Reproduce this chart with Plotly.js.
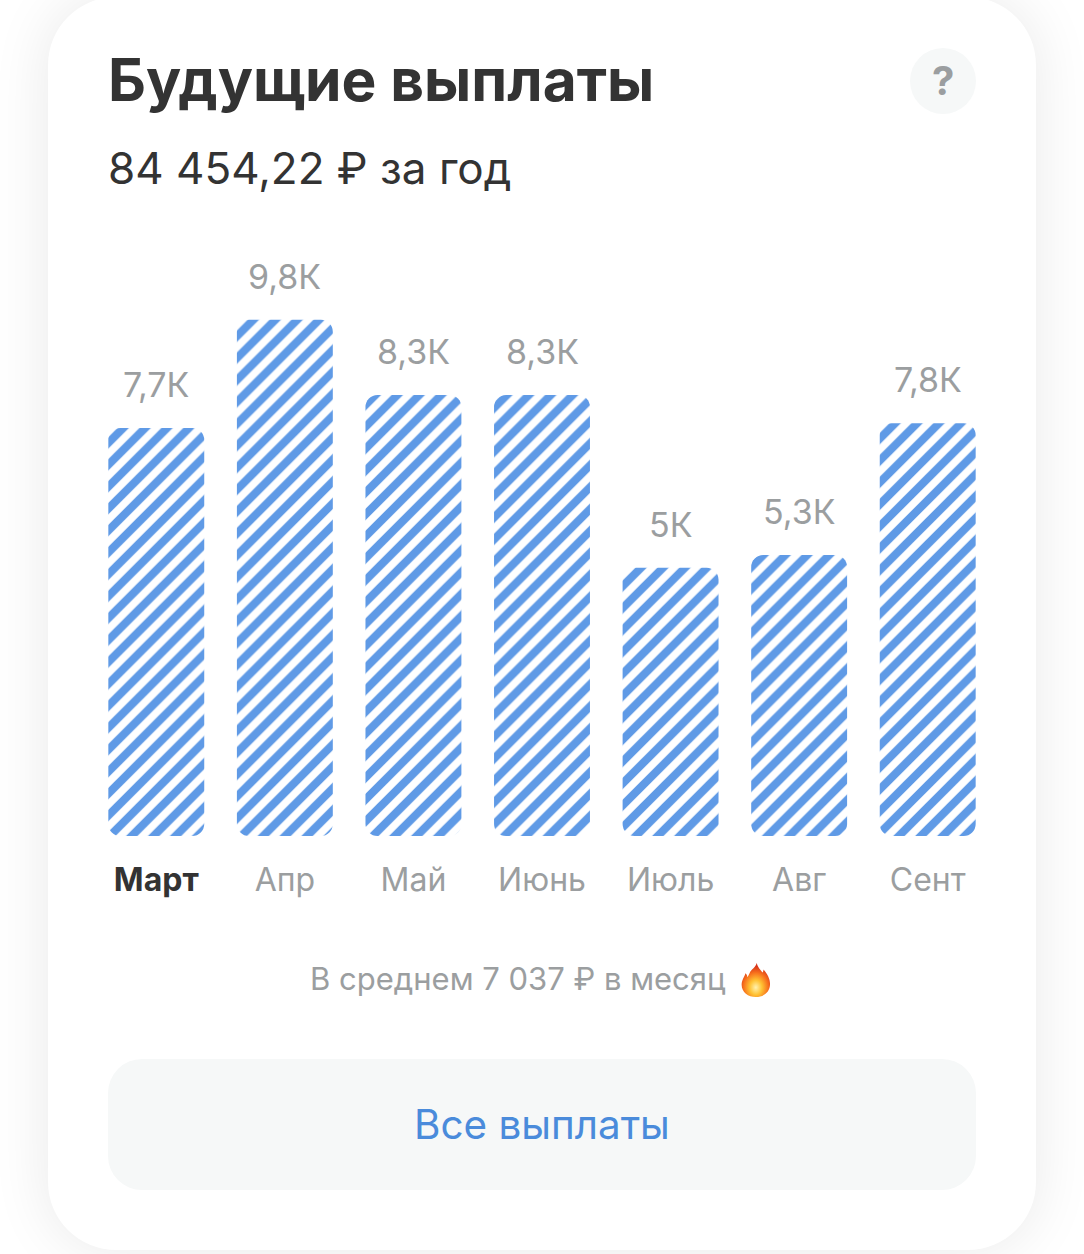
<!DOCTYPE html>
<html><head><meta charset="utf-8">
<script src="https://cdn.plot.ly/plotly-3.0.1.min.js"></script>
<style>
html,body{margin:0;padding:0;width:1084px;height:1254px;background:#fff;overflow:hidden}
.card{position:absolute;left:48px;top:-3px;width:988px;height:1253px;background:#fff;border-radius:68px;box-shadow:0 0 60px rgba(0,0,0,.09)}
.help{position:absolute;left:910px;top:48px;width:66px;height:66px;border-radius:50%;background:#f6f8f8}
.btn{position:absolute;left:108px;top:1059px;width:868px;height:131px;border-radius:34px;background:#f6f8f8}
#chart{position:absolute;left:0;top:0;width:1084px;height:1254px}
</style></head><body>
<div class="card"></div><div class="help"></div><div class="btn"></div>
<div id="chart"></div>
<script>
const months = ['Март','Апр','Май','Июнь','Июль','Авг','Сент'];
const monthLabels = ['<b><span style="color:#333333">Март</span></b>','Апр','Май','Июнь','Июль','Авг','Сент'];
const payouts = [7.7, 9.74, 8.32, 8.32, 5.06, 5.3, 7.79];
const valueLabels = ['7,7К','9,8К','8,3К','8,3К','5К','5,3К','7,8К'];
const titleText = 'Будущие выплаты';
const subtitleText = '84 454,22 ₽ за год';
const averageText = 'В среднем 7 037 ₽ в месяц';
const buttonText = 'Все выплаты';

const W = 1084, H = 1254, L = 91.67, R = 91.67, T = 240, B = 418;
const px = x => (x - L) / (W - L - R);
const py = y => 1 - (y - T) / (H - T - B);
const FONT = 'Inter, Roboto, sans-serif';
const GREY = '#9b9ea0';

const flame = `<svg xmlns="http://www.w3.org/2000/svg" viewBox="0 0 32 38"><defs><radialGradient id="g" cx="50%" cy="72%" r="62%"><stop offset="0" stop-color="#fff2b0"/><stop offset=".35" stop-color="#ffc233"/><stop offset=".7" stop-color="#f7711c"/><stop offset="1" stop-color="#d8341a"/></radialGradient></defs><path fill="url(#g)" d="M17 1c1 5 4 7 6 10 1-1 1-2 1-3 4 4 7 10 7 15 0 9-7 14-15 14S1 32 1 24c0-5 3-8 4-12 1 1 2 2 2 4 2-2 2-5 5-8 2-2 4-4 5-7z"/></svg>`;

const trace = {
  type: 'bar', x: months, y: payouts,
  cliponaxis: false,
  marker: {color: '#ffffff', line: {width: 0},
    pattern: {shape: '/', bgcolor: '#ffffff', fgcolor: '#5f9ae6', size: 15.5, solidity: 0.52, fillmode: 'replace'}},
  hoverinfo: 'skip'
};
const pageTexts = [
    {text: subtitleText, x: px(106), y: py(168), xanchor: 'left', yanchor: 'middle', font: {family: FONT, size: 44, color: '#333333'}},
    {text: averageText, x: px(307.5), y: py(978), xanchor: 'left', yanchor: 'middle', font: {family: FONT, size: 31, color: GREY}},
    {text: buttonText, x: px(541.5), y: py(1124), xanchor: 'center', yanchor: 'middle', font: {family: FONT, size: 40.4, color: '#4a8bdb'}},
    {text: '<b>?</b>', x: px(943), y: py(81), xanchor: 'center', yanchor: 'middle', font: {family: FONT, size: 40, color: GREY}}
].map(a => Object.assign({xref: 'paper', yref: 'paper', showarrow: false}, a));
const barLabels = months.map((m, i) => ({xref: 'x', yref: 'y', x: m, y: payouts[i], text: valueLabels[i], showarrow: false,
    yanchor: 'bottom', yshift: 21, font: {family: FONT, size: 34, color: GREY}}));
const layout = {
  width: W, height: H, showlegend: false, hovermode: false,
  paper_bgcolor: 'rgba(0,0,0,0)', plot_bgcolor: 'rgba(0,0,0,0)',
  margin: {l: L, r: R, t: T, b: B, pad: 0},
  bargap: 0.254, barcornerradius: 12,
  title: {text: '<b>' + titleText + '</b>', xref: 'container', yref: 'container', x: 108 / W, xanchor: 'left',
          y: 1 - 80 / H, yanchor: 'middle', font: {family: FONT, size: 58.6, color: '#333333'}},
  xaxis: {type: 'category', categoryorder: 'array', categoryarray: months, tickmode: 'array', tickvals: months, ticktext: monthLabels,
          ticks: '', ticklen: 0, showline: false, showgrid: false, zeroline: false, ticklabelstandoff: 22,
          tickfont: {family: FONT, size: 32, color: GREY}, fixedrange: true, tickangle: 0},
  yaxis: {range: [0, (836 - T) / 53], visible: false, fixedrange: true},
  annotations: pageTexts.concat(barLabels),
  images: [{source: 'data:image/svg+xml;charset=utf-8,' + encodeURIComponent(flame), xref: 'paper', yref: 'paper',
            x: px(739), y: py(962), sizex: 34 / (W - L - R), sizey: 36 / (H - T - B), xanchor: 'left', yanchor: 'top', sizing: 'contain', layer: 'above'}]
};
Plotly.newPlot('chart', [trace], layout, {displayModeBar: false, staticPlot: true}).then(gd => {
  const r = 12;
  gd.querySelectorAll('.bars .point path').forEach(p => {
    const b = p.getBBox(), x0 = b.x, x1 = b.x + b.width, y0 = b.y, y1 = b.y + b.height;
    p.setAttribute('d', `M${x0},${y0 + r}A${r},${r} 0 0 1 ${x0 + r},${y0}H${x1 - r}A${r},${r} 0 0 1 ${x1},${y0 + r}V${y1 - r}A${r},${r} 0 0 1 ${x1 - r},${y1}H${x0 + r}A${r},${r} 0 0 1 ${x0},${y1 - r}Z`);
  });
});
</script>
</body></html>
